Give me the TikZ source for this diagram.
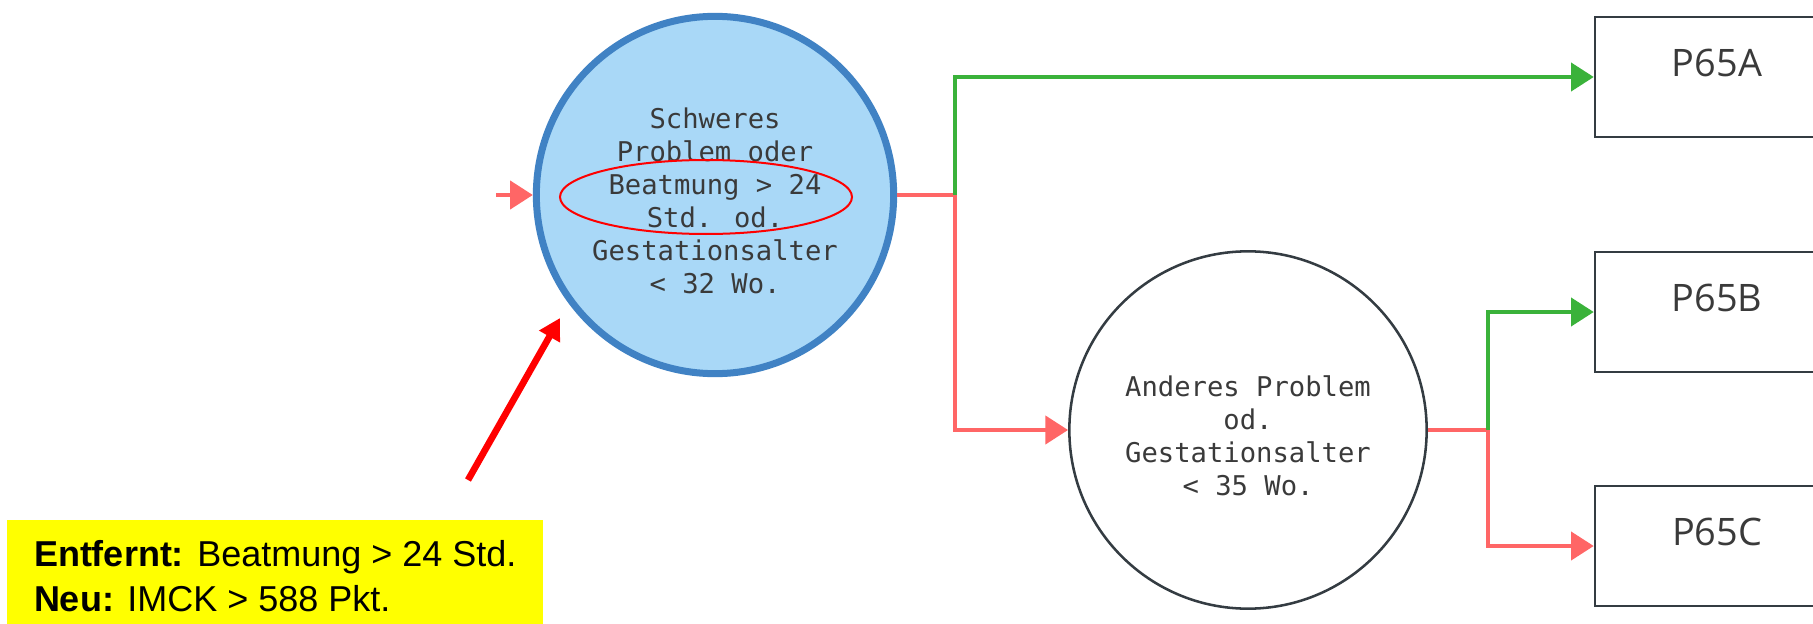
\documentclass[tikz,border=0pt]{standalone}
\usepackage{fontspec}
\setmainfont{Liberation Sans}
\newfontfamily\condfont{DejaVu Sans Mono}
\newfontfamily\boxfont{Open Sans}
\usetikzlibrary{arrows.meta}
\definecolor{lineRed}{RGB}{255,102,102}
\definecolor{lineGreen}{RGB}{58,178,58}
\definecolor{condBlue}{RGB}{64,130,196}
\definecolor{condFill}{RGB}{169,216,247}
\definecolor{boxGray}{RGB}{52,60,66}
\definecolor{textGray}{RGB}{58,58,58}
\definecolor{noteYellow}{RGB}{255,255,0}
\begin{document}
\begin{tikzpicture}[x=0.75pt, y=-0.75pt,
    cond/.style={circle, minimum size=268pt, inner sep=0pt},
    condtext/.style={align=center, text=textGray, yshift=-4.5pt,
        font=\condfont\fontsize{20.4pt}{24.75pt}\selectfont},
    drg/.style={rectangle, draw=boxGray, line width=1.9pt, minimum width=183pt, minimum height=90pt,
        text=textGray, text height=20pt, text depth=21pt, font=\boxfont\fontsize{28.4pt}{30pt}\selectfont},
    yes/.style={draw=lineGreen, line width=3pt, -{Triangle[length=17pt,width=21pt]}},
    no/.style={draw=lineRed, line width=3pt, -{Triangle[length=17pt,width=21pt]}}]
    \useasboundingbox (0,0) rectangle (1813,624);
    % conditions
    \node[cond, draw=condBlue, fill=condFill, line width=5.25pt,
        label={[condtext]center:{Schweres\\Problem oder\\Beatmung > 24\\Std. od.\\Gestationsalter\\< 32 Wo.}}]
        (c1) at (715,195) {};
    \node[cond, draw=boxGray, line width=1.9pt,
        label={[condtext]center:{Anderes Problem\\od.\\Gestationsalter\\< 35 Wo.}}]
        (c2) at (1248,430) {};
    \draw[red, line width=1.5pt] (706,197) ellipse [x radius=109.5pt, y radius=27.75pt];
    % DRGs
    \node[drg] (pa) at (1717,77) {P65A};
    \node[drg] (pb) at (1717,312) {P65B};
    \node[drg] (pc) at (1717,546) {P65C};
    % connectors
    \coordinate (in) at (496,195);
    \coordinate (s1) at (955,195);
    \coordinate (s2) at (1488,430);
    \draw[no] (in) -- (c1.west);
    \draw[no] (c1.east) -- (s1) |- (c2.west);
    \draw[yes] (s1) |- (pa.west);
    \draw[no] (c2.east) -- (s2) |- (pc.west);
    \draw[yes] (s2) |- (pb.west);
    % note
    \node[anchor=north west, fill=noteYellow, align=left, inner xsep=14pt, inner ysep=15pt,
        minimum width=402pt, font=\fontsize{27pt}{33.75pt}\selectfont] (note) at (7,520)
        {\textbf{Entfernt:} Beatmung > 24 Std.\\\textbf{Neu:} IMCK > 588 Pkt.};
    \coordinate (nt) at (468,480);
    \coordinate (nh) at (560,318);
    \draw[red, line width=5pt, -{Triangle[length=16pt,width=17pt]}] (nt) -- (nh);
\end{tikzpicture}
\end{document}
